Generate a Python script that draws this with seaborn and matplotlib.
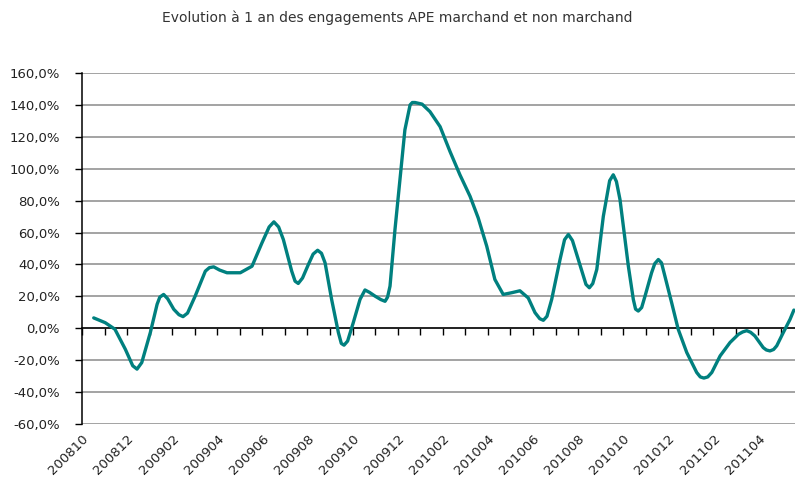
import matplotlib
matplotlib.use('Agg')
import matplotlib.pyplot as plt
import seaborn as sns
import pandas as pd
from matplotlib.ticker import FuncFormatter, MultipleLocator

# months counted from 200810 (0 = Oct 2008) (%)
months = [0.52, 1.03, 1.46, 1.92, 2.25, 2.44, 2.65, 3.03, 3.33, 3.45,
          3.62, 3.80, 4.07, 4.30, 4.48, 4.68, 5.02, 5.47, 5.65, 5.84,
          6.10, 6.43, 7.02, 7.54, 7.98, 8.30, 8.51, 8.72, 8.93, 9.30,
          9.45, 9.59, 9.78, 10.04, 10.25, 10.45, 10.62, 10.78, 11.07, 11.37,
          11.50, 11.62, 11.78, 12.03, 12.33, 12.55, 12.75, 12.99, 13.25, 13.44,
          13.55, 13.66, 13.88, 14.10, 14.32, 14.55, 14.65, 14.77, 15.08, 15.43,
          15.88, 16.32, 16.76, 17.21, 17.57, 17.95, 18.31, 18.68, 19.06, 19.42,
          19.79, 20.09, 20.30, 20.46, 20.62, 20.83, 21.20, 21.40, 21.57, 21.75,
          22.01, 22.35, 22.50, 22.65, 22.83, 23.12, 23.40, 23.56, 23.70, 23.86,
          24.23, 24.45, 24.55, 24.67, 24.82, 24.97, 25.26, 25.40, 25.56, 25.70,
          25.85, 26.15, 26.44, 26.82, 27.26, 27.42, 27.58, 27.75, 27.93, 28.30,
          28.74, 29.11, 29.30, 29.48, 29.65, 29.84, 30.21, 30.35, 30.51, 30.67,
          30.81, 31.10, 31.40, 31.57]
evolution = [6.5, 3.5, -0.6, -13.1, -23.5, -25.6, -21.5, -2.7, 15.0, 19.5,
             21.2, 18.5, 11.9, 8.5, 7.3, 9.5, 20.2, 35.8, 38.0, 38.5,
             36.5, 34.8, 34.8, 38.9, 53.5, 63.5, 66.7, 63.5, 55.6, 35.8,
             29.5, 28.1, 31.5, 40.0, 46.5, 48.9, 47.0, 41.0, 18.1, -2.7,
             -9.5, -10.6, -8.0, 3.5, 18.1, 24.0, 22.5, 20.2, 18.0, 16.9,
             19.5, 26.4, 61.9, 93.1, 124.4, 140.0, 141.5, 141.5, 140.5, 135.8,
             126.4, 110.8, 96.2, 82.7, 69.2, 51.4, 30.6, 21.2, 22.3, 23.5,
             19.0, 9.8, 6.0, 5.0, 7.5, 18.1, 43.1, 55.5, 58.8, 55.0,
             43.1, 27.5, 25.4, 28.0, 36.9, 70.2, 92.5, 96.2, 92.0, 80.6,
             38.9, 18.1, 12.0, 10.8, 13.0, 20.2, 34.8, 40.5, 43.1, 41.0,
             32.7, 16.0, -0.6, -15.2, -27.7, -30.5, -31.2, -30.5, -27.7, -17.3,
             -8.9, -3.8, -2.3, -1.5, -2.5, -4.8, -12.1, -13.6, -14.2, -13.3,
             -11.0, -2.7, 5.6, 11.4]

tick_months = list(range(0, 31, 2))
tick_labels = ['200810', '200812', '200902', '200904', '200906', '200908',
               '200910', '200912', '201002', '201004', '201006', '201008',
               '201010', '201012', '201102', '201104']

df = pd.DataFrame({'mois': months, 'evolution': evolution})

sns.set_style('white')
plt.rcParams['font.family'] = ['DejaVu Sans']

fig = plt.figure(figsize=(7.95, 4.87), dpi=100)
ax = fig.add_axes([82 / 795, 1 - 424 / 487, 1 - 82 / 795, 351 / 487])

sns.lineplot(data=df, x='mois', y='evolution', ax=ax, color='#00807f',
             linewidth=2.4, zorder=3, solid_joinstyle='round',
             solid_capstyle='round')

ax.set_xlim(0, 31.62)
ax.set_ylim(-60, 160)
ax.yaxis.set_major_locator(MultipleLocator(20))
ax.yaxis.set_major_formatter(FuncFormatter(lambda v, p: f'{v:.1f}%'.replace('.', ',')))
ax.grid(axis='y', color='#8a8a8a', linewidth=1.1)
ax.grid(axis='x', visible=False)

for s in ['top', 'right']:
    ax.spines[s].set_visible(False)
ax.spines['left'].set_color('black')
ax.spines['left'].set_linewidth(1.1)
ax.spines['bottom'].set_position(('data', 0))
ax.spines['bottom'].set_color('black')
ax.spines['bottom'].set_linewidth(1.1)

ax.tick_params(axis='y', left=True, length=5, width=1, color='black',
               labelsize=9.5, labelcolor='#222222', pad=11)
ax.xaxis.set_major_locator(MultipleLocator(1))
ax.tick_params(axis='x', bottom=True, length=5, width=1, color='black',
               labelbottom=False)
ax.set_xlabel('')
ax.set_ylabel('')

sec = ax.secondary_xaxis(0)
sec.set_xticks(tick_months)
sec.set_xticklabels(tick_labels, rotation=45, ha='right', rotation_mode='anchor')
sec.tick_params(length=0, labelsize=9.5, labelcolor='#222222', pad=6)
sec.spines['bottom'].set_visible(False)

fig.text(0.5, 1 - 18 / 487, 'Evolution à 1 an des engagements APE marchand et non marchand',
         ha='center', va='center', fontsize=10, color='#333333')

fig.savefig('out.png', dpi=100)
